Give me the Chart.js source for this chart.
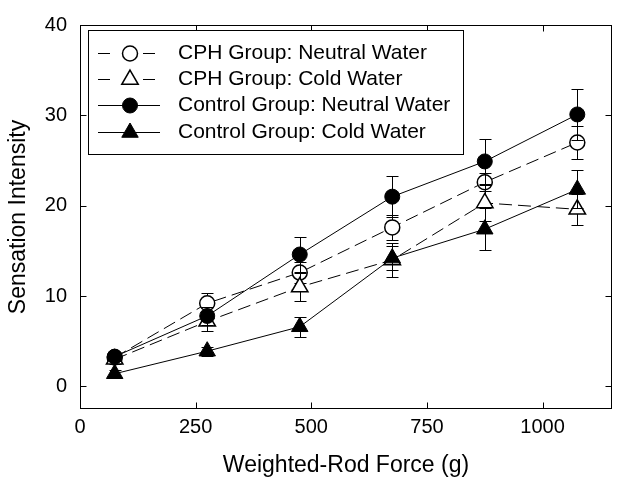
<!DOCTYPE html>
<html lang="en">
<head>
<meta charset="UTF-8">
<title>Sensation Intensity vs Weighted-Rod Force</title>
<script src="https://cdn.jsdelivr.net/npm/chart.js"></script>
<style>
  body { margin: 0; background: #fff; }
  .chart-container { position: relative; width: 623px; height: 479px; }
</style>
</head>
<body>
<div class="chart-container"><canvas id="sensationChart"></canvas></div>
<script>
// data
var forces = [75, 275, 475, 675, 875, 1075];
var seriesLabels = ['CPH Group: Neutral Water', 'CPH Group: Cold Water', 'Control Group: Neutral Water', 'Control Group: Cold Water'];
var cphNeutral = [3.2, 9.2, 12.6, 17.6, 22.6, 27.0];
var cphNeutralErr = [0.5, 1.1, 1.2, 1.4, 1.0, 1.8];
var cphCold = [3.0, 7.2, 11.0, 14.0, 20.3, 19.6];
var cphColdErr = [0.5, 1.1, 1.5, 1.9, 2.0, 1.7];
var ctrlNeutral = [3.3, 7.8, 14.6, 21.0, 24.9, 30.1];
var ctrlNeutralErr = [0.5, 1.0, 1.9, 2.3, 2.5, 2.8];
var ctrlCold = [1.4, 3.9, 6.6, 14.2, 17.4, 21.8];
var ctrlColdErr = [0.4, 0.5, 1.1, 1.3, 2.3, 2.1];
var xTicks = [0, 250, 500, 750, 1000];
var yTicks = [0, 10, 20, 30, 40];

var FONT = 'Liberation Sans, Arial, sans-serif';
var errorSets = [cphNeutralErr, cphColdErr, ctrlNeutralErr, ctrlColdErr];

function toPoints(values) {
    return values.map(function (v, i) { return { x: forces[i], y: v }; });
}

function makeSet(idx, values, style, filled, dashed) {
    return {
        label: seriesLabels[idx],
        data: toPoints(values),
        order: 3 - idx,
        borderColor: '#000',
        borderWidth: 1,
        borderDash: dashed ? [13, 6] : [],
        pointStyle: style,
        pointRadius: style === 'triangle' ? 9.5 : 7.5,
        pointBackgroundColor: filled ? '#000' : '#fff',
        pointBorderColor: '#000',
        pointBorderWidth: filled ? 1 : 1.5,
        fill: false,
        tension: 0
    };
}

// error bars go under each series' own line and markers
var errorBars = {
    id: 'errorBars',
    beforeDatasetDraw: function (chart, args) {
        var errs = errorSets[args.index];
        var yScale = chart.scales.y;
        var ctx = chart.ctx;
        var ds = chart.data.datasets[args.index];
        ctx.save();
        ctx.strokeStyle = '#000';
        ctx.lineWidth = 1;
        ctx.setLineDash([]);
        args.meta.data.forEach(function (pt, i) {
            var v = ds.data[i].y;
            var top = Math.round(yScale.getPixelForValue(v + errs[i])) + 0.5;
            var bot = Math.round(yScale.getPixelForValue(v - errs[i])) + 0.5;
            var x = Math.round(pt.x) + 0.5;
            ctx.beginPath();
            ctx.moveTo(x, top); ctx.lineTo(x, bot);
            ctx.moveTo(x - 6, top); ctx.lineTo(x + 6, top);
            ctx.moveTo(x - 6, bot); ctx.lineTo(x + 6, bot);
            ctx.stroke();
        });
        ctx.restore();
    }
};

// box frame, inward ticks, and the boxed legend inside the plot
var frameAndLegend = {
    id: 'frameAndLegend',
    afterDraw: function (chart) {
        var ctx = chart.ctx;
        var a = chart.chartArea;
        var xs = chart.scales.x, ys = chart.scales.y;
        var L = Math.round(a.left) + 0.5, R = Math.round(a.right) - 0.5;
        var T = Math.round(a.top) + 0.5, B = Math.round(a.bottom) - 0.5;
        ctx.save();
        ctx.strokeStyle = '#000';
        ctx.lineWidth = 1;
        ctx.setLineDash([]);
        ctx.strokeRect(L, T, R - L, B - T);
        ctx.beginPath();
        xTicks.forEach(function (v) {
            var px = Math.round(xs.getPixelForValue(v)) + 0.5;
            ctx.moveTo(px, B); ctx.lineTo(px, B - 6);
            ctx.moveTo(px, T); ctx.lineTo(px, T + 6);
        });
        yTicks.forEach(function (v) {
            var py = Math.round(ys.getPixelForValue(v)) + 0.5;
            ctx.moveTo(L, py); ctx.lineTo(L + 6, py);
            ctx.moveTo(R, py); ctx.lineTo(R - 6, py);
        });
        ctx.stroke();

        // legend
        ctx.fillStyle = '#fff';
        ctx.fillRect(88.5, 30.5, 375, 124);
        ctx.strokeRect(88.5, 30.5, 375, 124);
        ctx.font = '21px ' + FONT;
        ctx.textBaseline = 'middle';
        ctx.textAlign = 'left';
        chart.data.datasets.forEach(function (ds, i) {
            var y = Math.round(53 + i * 26.2) + 0.5;
            ctx.strokeStyle = '#000';
            ctx.lineWidth = 1;
            ctx.beginPath();
            if (ds.borderDash.length) {
                ctx.moveTo(98, y); ctx.lineTo(110, y);
                ctx.moveTo(143, y); ctx.lineTo(155, y);
            } else {
                ctx.moveTo(98, y); ctx.lineTo(160, y);
            }
            ctx.stroke();
            ctx.fillStyle = ds.pointBackgroundColor;
            ctx.lineWidth = ds.pointBorderWidth;
            Chart.helpers.drawPoint(ctx, {
                pointStyle: ds.pointStyle,
                radius: ds.pointRadius,
                rotation: 0,
                borderWidth: ds.pointBorderWidth
            }, 130, y);
            ctx.fillStyle = '#000';
            ctx.fillText(ds.label, 178, y);
        });
        ctx.restore();
    }
};

var ctx = document.getElementById('sensationChart').getContext('2d');
var myChart = new Chart(ctx, {
    type: 'line',
    data: {
        datasets: [
            makeSet(0, cphNeutral, 'circle', false, true),
            makeSet(1, cphCold, 'triangle', false, true),
            makeSet(2, ctrlNeutral, 'circle', true, false),
            makeSet(3, ctrlCold, 'triangle', true, false)
        ]
    },
    options: {
        responsive: true,
        maintainAspectRatio: false,
        animation: false,
        devicePixelRatio: 1,
        layout: { padding: { top: 21, right: 2, left: 0, bottom: 0 } },
        plugins: {
            legend: { display: false },
            tooltip: { enabled: false }
        },
        scales: {
            x: {
                type: 'linear',
                min: 0,
                max: 1150,
                afterBuildTicks: function (s) { s.ticks = xTicks.map(function (v) { return { value: v }; }); },
                afterFit: function (s) { s.height = 70; },
                grid: { display: false, drawTicks: false },
                border: { display: false },
                ticks: {
                    padding: 6,
                    color: '#000',
                    font: { family: FONT, size: 20 },
                    maxRotation: 0,
                    callback: function (v) { return String(v); }
                },
                title: {
                    display: true,
                    text: 'Weighted-Rod Force (g)',
                    color: '#000',
                    font: { family: FONT, size: 23 },
                    padding: { top: 0, bottom: 0 }
                }
            },
            y: {
                min: -2.5,
                max: 40,
                afterBuildTicks: function (s) { s.ticks = yTicks.map(function (v) { return { value: v }; }); },
                afterFit: function (s) { s.width = 80; },
                grid: { display: false, drawTicks: false },
                border: { display: false },
                ticks: {
                    padding: 13,
                    color: '#000',
                    font: { family: FONT, size: 20 },
                    callback: function (v) { return String(v); }
                },
                title: {
                    display: true,
                    text: 'Sensation Intensity',
                    color: '#000',
                    font: { family: FONT, size: 23 },
                    padding: { top: 5, bottom: 0 }
                }
            }
        }
    },
    plugins: [errorBars, frameAndLegend]
});
</script>
</body>
</html>
